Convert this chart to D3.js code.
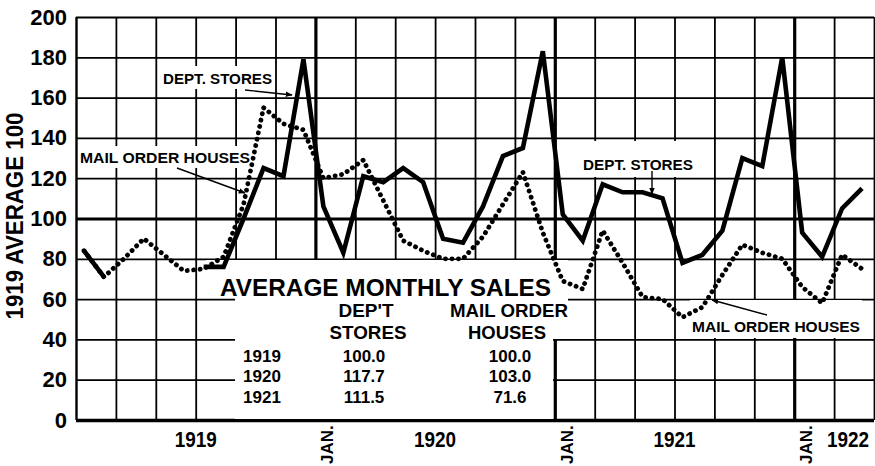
<!DOCTYPE html>
<html>
<head>
<meta charset="utf-8">
<script src="https://cdn.jsdelivr.net/npm/d3@7"></script>
<style>
    body { margin: 0; background: #fff; }
    svg { display: block; font-family: "Liberation Sans", Arial, sans-serif; font-weight: bold; }
</style>
</head>
<body>
<svg id="chart"></svg>
<script>
// monthly sales index, 1919 average = 100
const years = [1919, 1920, 1921, 1922];
const monthNames = ["Jan", "Feb", "Mar", "Apr", "May", "Jun", "Jul", "Aug", "Sep", "Oct", "Nov", "Dec"];
const months = years.flatMap(y => monthNames.map(m => m + " " + y)).slice(0, 40);

// dept stores line is hidden under the mail order line in spring 1919
const deptStores = [84, 71, null, null, null, null, 76, 76, 100, 125, 121, 179,
    106, 83, 121, 118, 125, 118, 90, 88, 106, 131, 135, 183,
    102, 89, 117, 113, 113, 110, 78, 82, 94, 130, 126, 180,
    93, 81, 105, 115];
const mailOrder = [84, 71, 80, 90, 82, 74, 75, 81, 107, 155, 147, 144,
    120, 122, 129, 109, 89, 84, 80, 80, 91, 107, 123, 93,
    69, 65, 94, 78, 61, 60, 51, 56, 72, 87, 83, 80,
    66, 58, 82, 75];

const yTicks = [0, 20, 40, 60, 80, 100, 120, 140, 160, 180, 200];
const yearLabels = ["1919", "1920", "1921", "1922"];

const tableYears = ["1919", "1920", "1921"];
const tableDept = ["100.0", "117.7", "111.5"];
const tableMail = ["100.0", "103.0", "71.6"];

class SalesChart {
    constructor(_config = {}) {
        this.config = {
            parentElement: _config.parentElement,
            width: 875,
            height: 466,
            plot: { left: 76, right: 874, top: 17, bottom: 420 },
            monthsShown: 40,
            pointOffset: 0.4,
        }
        this.initVis();
    }

    initVis() {
        let vis = this;
        const p = vis.config.plot;

        vis.svg = d3.select(vis.config.parentElement)
            .attr('width', vis.config.width)
            .attr('height', vis.config.height);

        vis.svg.append('rect')
            .attr('width', vis.config.width)
            .attr('height', vis.config.height)
            .attr('fill', '#fff');

        vis.xScale = d3.scaleLinear()
            .domain([0, vis.config.monthsShown])
            .range([p.left, p.right]);

        vis.yScale = d3.scaleLinear()
            .domain([0, 200])
            .range([p.bottom, p.top]);

        vis.defs = vis.svg.append('defs');
        vis.defs.append('marker')
            .attr('id', 'arrow')
            .attr('viewBox', '0 0 10 10')
            .attr('refX', 9).attr('refY', 5)
            .attr('markerWidth', 7).attr('markerHeight', 7)
            .attr('markerUnits', 'userSpaceOnUse')
            .attr('orient', 'auto')
            .append('path')
            .attr('d', 'M0,1 L10,5 L0,9 Z')
            .attr('fill', '#000');
    }

    renderVis() {
        let vis = this;
        const p = vis.config.plot;
        const x = vis.xScale, y = vis.yScale;

        // grid
        const gridY = vis.svg.append('g')
            .attr('transform', `translate(${p.left},0)`)
            .call(d3.axisLeft(y).tickValues(yTicks).tickSize(-(p.right - p.left)).tickFormat(''));
        gridY.select('.domain').remove();
        gridY.selectAll('line')
            .attr('stroke', '#000')
            .attr('stroke-width', d => d === 100 ? 3.2 : (d === 0 ? 3.5 : 1.8));

        const gridX = vis.svg.append('g')
            .attr('transform', `translate(0,${p.bottom})`)
            .call(d3.axisBottom(x).tickValues(d3.range(0, vis.config.monthsShown + 1, 2)).tickSize(-(p.bottom - p.top)).tickFormat(''));
        gridX.select('.domain').remove();
        gridX.selectAll('line')
            .attr('stroke', '#000')
            .attr('stroke-width', d => (d % 12 === 0 && d > 0 && d < 40) ? 3.2 : (d === 0 ? 2.4 : 1.8));

        // white boxes over the grid for labels and the table
        const boxes = [
            [206, 260, 362, 38],   // table title
            [235, 298, 333, 41],   // table head
            [235, 339, 318, 80],   // table body
            [160, 66, 115, 23],    // dept stores label 1
            [78, 146, 174, 22],    // mail order label 1
            [581, 141, 116, 36],   // dept stores label 2
            [690, 300, 172, 38],   // mail order label 2
        ];
        vis.svg.append('g').selectAll('rect')
            .data(boxes)
            .join('rect')
            .attr('x', d => d[0]).attr('y', d => d[1])
            .attr('width', d => d[2]).attr('height', d => d[3])
            .attr('fill', '#fff');

        // series
        const line = d3.line()
            .defined(d => d.v !== null)
            .x(d => x(d.i + vis.config.pointOffset))
            .y(d => y(d.v));

        const toPoints = arr => arr.map((v, i) => ({ i: i, v: v, month: months[i] }));

        vis.svg.append('path')
            .datum(toPoints(mailOrder))
            .attr('d', line)
            .attr('fill', 'none')
            .attr('stroke', '#000')
            .attr('stroke-width', 4.8)
            .attr('stroke-linecap', 'round')
            .attr('stroke-dasharray', '0.1 6.4');

        vis.svg.append('path')
            .datum(toPoints(deptStores))
            .attr('d', line)
            .attr('fill', 'none')
            .attr('stroke', '#000')
            .attr('stroke-width', 4.6)
            .attr('stroke-linejoin', 'miter')
            .attr('stroke-linecap', 'butt');

        // y axis labels
        const yAxis = vis.svg.append('g')
            .attr('transform', `translate(${p.left},0)`)
            .call(d3.axisLeft(y).tickValues(yTicks).tickSize(0).tickPadding(9));
        yAxis.select('.domain').remove();
        yAxis.selectAll('text')
            .attr('font-size', 22)
            .attr('font-family', '"Liberation Sans", Arial, sans-serif')
            .attr('font-weight', 'bold')
            .attr('fill', '#000');

        vis.svg.append('text')
            .attr('transform', 'translate(23,216) rotate(-90)')
            .attr('text-anchor', 'middle')
            .attr('font-size', 23)
            .attr('textLength', 207)
            .attr('lengthAdjust', 'spacingAndGlyphs')
            .text('1919 AVERAGE 100');

        // x axis labels
        vis.svg.append('g').selectAll('text')
            .data(yearLabels)
            .join('text')
            .attr('x', (d, i) => Math.min(x(12 * i + 6), vis.config.width - 27))
            .attr('y', 447)
            .attr('text-anchor', 'middle')
            .attr('font-size', 22)
            .attr('textLength', 42)
            .attr('lengthAdjust', 'spacingAndGlyphs')
            .text(d => d);

        vis.svg.append('g').selectAll('text')
            .data([12, 24, 36])
            .join('text')
            .attr('transform', d => `translate(${x(d) + 18},464) rotate(-90)`)
            .attr('font-size', 17)
            .text('JAN.');

        // annotations
        const note = (txt, tx, ty, len) => vis.svg.append('text')
            .attr('x', tx).attr('y', ty)
            .attr('font-size', 14)
            .attr('textLength', len)
            .attr('lengthAdjust', 'spacingAndGlyphs')
            .text(txt);
        const arrow = (x1, y1, x2, y2) => vis.svg.append('line')
            .attr('x1', x1).attr('y1', y1).attr('x2', x2).attr('y2', y2)
            .attr('stroke', '#000').attr('stroke-width', 1.4)
            .attr('marker-end', 'url(#arrow)');

        note('DEPT. STORES', 163, 84, 109);
        arrow(245, 90, 292, 95);
        note('MAIL ORDER HOUSES', 80, 163, 170);
        arrow(177, 168, 245, 193);
        note('DEPT. STORES', 583, 170, 110);
        arrow(652, 171, 652, 194);
        note('MAIL ORDER HOUSES', 692, 332, 168);
        arrow(767, 315, 712, 300);

        // table of averages
        vis.svg.append('text')
            .attr('x', 220).attr('y', 296)
            .attr('font-size', 24)
            .attr('textLength', 331)
            .attr('lengthAdjust', 'spacingAndGlyphs')
            .text('AVERAGE MONTHLY SALES');

        const head = [
            ["DEP'T", 366, 317, 55], ['STORES', 368, 339, 77],
            ['MAIL ORDER', 509, 317, 118], ['HOUSES', 507, 339, 78],
        ];
        vis.svg.append('g').selectAll('text')
            .data(head)
            .join('text')
            .attr('x', d => d[1]).attr('y', d => d[2])
            .attr('text-anchor', 'middle')
            .attr('font-size', 19)
            .attr('textLength', d => d[3])
            .attr('lengthAdjust', 'spacingAndGlyphs')
            .text(d => d[0]);

        const rowY = [362, 382, 403];
        const col = (arr, cx) => vis.svg.append('g').selectAll('text')
            .data(arr)
            .join('text')
            .attr('x', cx)
            .attr('y', (d, i) => rowY[i])
            .attr('text-anchor', 'middle')
            .attr('font-size', 17)
            .text(d => d);
        col(tableYears, 262);
        col(tableDept, 364);
        col(tableMail, 510);
    }
}

const chart = new SalesChart({ parentElement: '#chart' });
chart.renderVis();
</script>
</body>
</html>
